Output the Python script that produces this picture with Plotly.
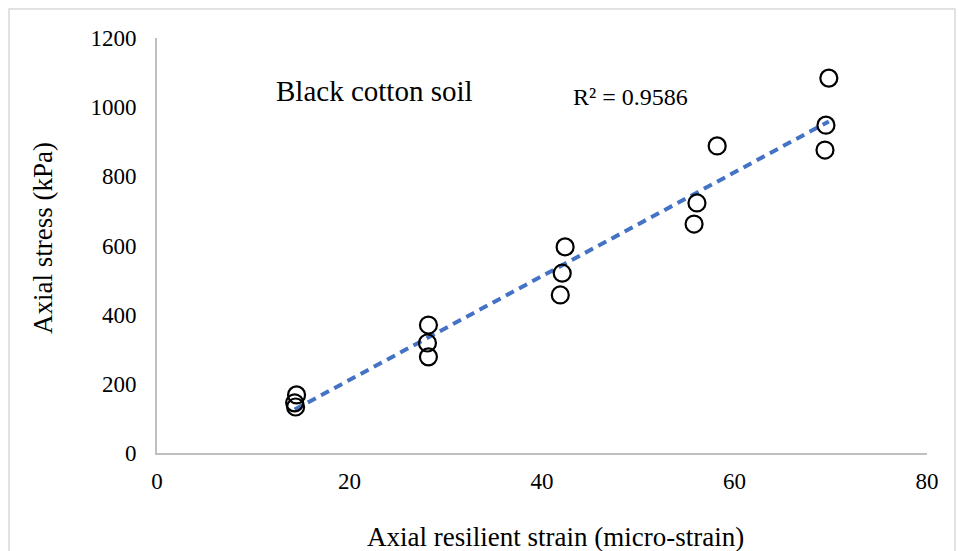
import numpy as np
import plotly.graph_objects as go

strain = [14.5, 14.3, 14.4, 28.2, 28.1, 28.2, 42.4, 42.1, 41.9, 58.2, 56.1, 55.8, 69.8, 69.5, 69.4]
stress = [168, 145, 133, 370, 318, 278, 596, 520, 457, 888, 723, 662, 1084, 948, 876]
x_ticks = [0, 20, 40, 60, 80]
y_ticks = [0, 200, 400, 600, 800, 1000, 1200]

xs = np.array(strain)
ys = np.array(stress)
m, c = np.polyfit(xs, ys, 1)
xl = np.array([xs.min(), xs.max()])

W, H = 959, 551
L, R, T, B = 157, 32, 38, 98
pw, ph = W - L - R, H - T - B


def px(x):
    return (x - L) / pw


def py(y):
    return (H - B - y) / ph


fig = go.Figure()
fig.add_trace(go.Scatter(x=xl, y=m * xl + c, mode="lines",
                         line=dict(color="#4472C4", width=4, dash="9px,6px"),
                         showlegend=False, hoverinfo="skip"))
fig.add_trace(go.Scatter(x=strain, y=stress, mode="markers",
                         marker=dict(symbol="circle-open", size=17, color="black",
                                     line=dict(width=2.2, color="black")),
                         showlegend=False))

font = "Liberation Serif, Times New Roman, serif"
fig.update_layout(
    width=W, height=H,
    margin=dict(l=L, r=R, t=T, b=B),
    paper_bgcolor="white", plot_bgcolor="white",
    font=dict(family=font, color="black", size=23),
    xaxis=dict(range=[0, 80], tickvals=x_ticks, showgrid=False, zeroline=False,
               showline=True, linecolor="#bfbfbf", linewidth=2, ticks="",
               ticklabelstandoff=6, tickfont=dict(size=23)),
    yaxis=dict(range=[0, 1200], tickvals=y_ticks, showgrid=False, zeroline=False,
               showline=True, linecolor="#bfbfbf", linewidth=2, ticks="",
               ticklabelstandoff=14, tickfont=dict(size=23)),
    annotations=[
        dict(x=px(374), y=py(91), xref="paper", yref="paper", text="Black cotton soil",
             showarrow=False, font=dict(size=29), xanchor="center", yanchor="middle"),
        dict(x=px(630), y=py(97), xref="paper", yref="paper", text="R² = 0.9586",
             showarrow=False, font=dict(size=24), xanchor="center", yanchor="middle"),
        dict(x=px(555), y=py(537), xref="paper", yref="paper",
             text="Axial resilient strain (micro-strain)",
             showarrow=False, font=dict(size=27), xanchor="center", yanchor="middle"),
        dict(x=px(43), y=py(238), xref="paper", yref="paper", text="Axial stress (kPa)",
             showarrow=False, font=dict(size=27), xanchor="center", yanchor="middle",
             textangle=-90),
    ],
    shapes=[dict(type="rect", xref="paper", yref="paper",
                 x0=px(9), x1=px(955), y0=py(570), y1=py(9),
                 line=dict(color="#d9d9d9", width=1.5), layer="below")],
)
fig.write_html("out.html")
